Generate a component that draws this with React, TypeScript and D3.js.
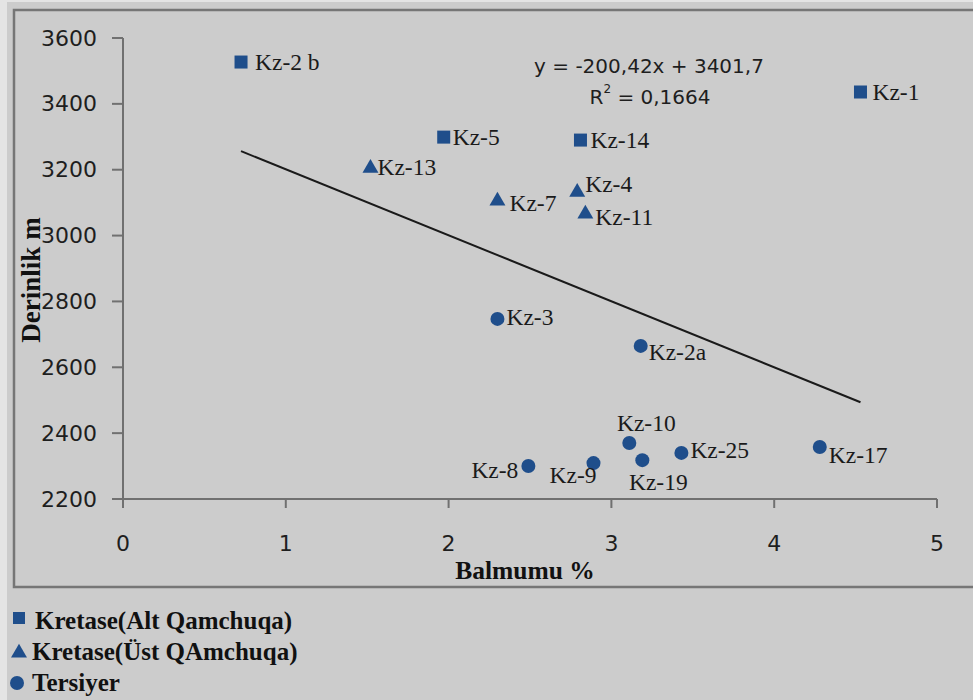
import React from "react";
import * as d3 from "d3";

const W = 973;
const H = 700;

const seriesNames = ["Kretase(Alt Qamchuqa)", "Kretase(Üst QAmchuqa)", "Tersiyer"];

// Kretase (Alt Qamchuqa) - squares
const altLabels = ["Kz-2 b", "Kz-5", "Kz-14", "Kz-1"];
const altX = [0.725, 1.97, 2.81, 4.53];
const altY = [3527, 3299, 3290, 3436];

// Kretase (Üst Qamchuqa) - triangles
const ustLabels = ["Kz-13", "Kz-7", "Kz-4", "Kz-11"];
const ustX = [1.52, 2.3, 2.79, 2.84];
const ustY = [3208, 3108, 3135, 3069];

// Tersiyer - circles
const terLabels = ["Kz-3", "Kz-2a", "Kz-10", "Kz-25", "Kz-17", "Kz-8", "Kz-9", "Kz-19"];
const terX = [2.3, 3.18, 3.11, 3.43, 4.28, 2.49, 2.89, 3.19];
const terY = [2747, 2665, 2370, 2340, 2358, 2300, 2309, 2318];

const xTicks = [0, 1, 2, 3, 4, 5];
const yTicks = [2200, 2400, 2600, 2800, 3000, 3200, 3400, 3600];

const slope = -200.42;
const intercept = 3401.7;
const equationText = "y = -200,42x + 3401,7";
const r2Value = "0,1664";

// label offsets (px) and anchors per point
type LabelPos = { dx: number; dy: number; anchor: "start" | "middle" | "end" };
const altLabelPos: LabelPos[] = [
  { dx: 14, dy: 0, anchor: "start" },
  { dx: 9, dy: 0, anchor: "start" },
  { dx: 10, dy: 0, anchor: "start" },
  { dx: 12, dy: 0, anchor: "start" },
];
const ustLabelPos: LabelPos[] = [
  { dx: 7, dy: 0, anchor: "start" },
  { dx: 12, dy: 3, anchor: "start" },
  { dx: 8, dy: -7, anchor: "start" },
  { dx: 10, dy: 4, anchor: "start" },
];
const terLabelPos: LabelPos[] = [
  { dx: 9, dy: -2, anchor: "start" },
  { dx: 8, dy: 6, anchor: "start" },
  { dx: 17, dy: -20, anchor: "middle" },
  { dx: 9, dy: -3, anchor: "start" },
  { dx: 9, dy: 8, anchor: "start" },
  { dx: -10, dy: 4, anchor: "end" },
  { dx: 3, dy: 12, anchor: "end" },
  { dx: 16, dy: 22, anchor: "middle" },
];

const BLUE = "#1F4E8B";
const SERIF = "'Liberation Serif', 'Times New Roman', serif";
const SANS = "'DejaVu Sans', sans-serif";

export default function App() {
  const x = d3.scaleLinear().domain([0, 5]).range([123, 937]);
  const y = d3.scaleLinear().domain([2200, 3600]).range([499, 38]);

  const allX = [...altX, ...ustX, ...terX];
  const xMin = d3.min(allX) as number;
  const xMax = d3.max(allX) as number;
  const trend = d3
    .line<number>()
    .x((d) => x(d))
    .y((d) => y(slope * d + intercept));

  const tri = d3.symbol().type(d3.symbolTriangle).size(110)() as string;

  const label = (t: string, px: number, py: number, p: LabelPos, key: string) => (
    <text
      key={key}
      x={px + p.dx}
      y={py + p.dy}
      textAnchor={p.anchor}
      dominantBaseline="central"
      fontFamily={SERIF}
      fontSize={23.5}
      fill="#1a1a1a"
    >
      {t}
    </text>
  );

  return (
    <svg
      width={W}
      height={H}
      style={{ position: "absolute", left: 0, top: 0, display: "block" }}
    >
      <rect x={0} y={0} width={W} height={H} fill="#cccccc" />
      <rect x={0} y={0} width={7} height={H} fill="#e4e4e4" />
      <rect x={0} y={0} width={W} height={2} fill="#e4e4e4" />
      {/* chart frame */}
      <rect x={14} y={10} width={W + 20} height={577} fill="none" stroke="#767676" strokeWidth={2.5} />

      {/* axes */}
      <line x1={123} x2={123} y1={y(3600)} y2={y(2200)} stroke="#707070" strokeWidth={2} />
      <line x1={123} x2={x(5)} y1={y(2200)} y2={y(2200)} stroke="#707070" strokeWidth={2} />
      {yTicks.map((t) => (
        <g key={"yt" + t}>
          <line x1={112} x2={123} y1={y(t)} y2={y(t)} stroke="#707070" strokeWidth={2} />
          <text
            x={97}
            y={y(t)}
            textAnchor="end"
            dominantBaseline="central"
            fontFamily={SANS}
            fontSize={22}
            fill="#1e1e1e"
          >
            {t}
          </text>
        </g>
      ))}
      {xTicks.map((t) => (
        <g key={"xt" + t}>
          <line x1={x(t)} x2={x(t)} y1={499} y2={508} stroke="#707070" strokeWidth={2} />
          <text
            x={x(t)}
            y={543}
            textAnchor="middle"
            dominantBaseline="central"
            fontFamily={SANS}
            fontSize={22}
            fill="#1e1e1e"
          >
            {t}
          </text>
        </g>
      ))}

      {/* axis titles */}
      <text
        x={525}
        y={570}
        textAnchor="middle"
        dominantBaseline="central"
        fontFamily={SERIF}
        fontWeight="bold"
        fontSize={25.5}
        fill="#111"
      >
        Balmumu %
      </text>
      <text
        transform="translate(31,280) rotate(-90)"
        textAnchor="middle"
        dominantBaseline="central"
        fontFamily={SERIF}
        fontWeight="bold"
        fontSize={27}
        fill="#111"
      >
        Derinlik m
      </text>

      {/* trend line */}
      <path d={trend([xMin, xMax]) as string} fill="none" stroke="#1a1a1a" strokeWidth={2} />
      <text x={649} y={66} textAnchor="middle" dominantBaseline="central" fontFamily={SANS} fontSize={20} fill="#1e1e1e">
        {equationText}
      </text>
      <text x={650} y={97} textAnchor="middle" dominantBaseline="central" fontFamily={SANS} fontSize={20} fill="#1e1e1e">
        R<tspan fontSize={12} dy={-8}>2</tspan>
        <tspan dy={8}> = {r2Value}</tspan>
      </text>

      {/* points */}
      {altX.map((v, i) => (
        <rect key={"a" + i} x={x(v) - 6.5} y={y(altY[i]) - 6.5} width={13} height={13} fill={BLUE} />
      ))}
      {ustX.map((v, i) => (
        <path key={"u" + i} d={tri} transform={`translate(${x(v)},${y(ustY[i]) + 1})`} fill={BLUE} />
      ))}
      {terX.map((v, i) => (
        <circle key={"t" + i} cx={x(v)} cy={y(terY[i])} r={7} fill={BLUE} />
      ))}

      {/* labels */}
      {altLabels.map((t, i) => label(t, x(altX[i]), y(altY[i]), altLabelPos[i], "al" + i))}
      {ustLabels.map((t, i) => label(t, x(ustX[i]), y(ustY[i]), ustLabelPos[i], "ul" + i))}
      {terLabels.map((t, i) => label(t, x(terX[i]), y(terY[i]), terLabelPos[i], "tl" + i))}

      {/* legend */}
      <rect x={13} y={612} width={12} height={12} fill={BLUE} />
      <path d={tri} transform="translate(19,653)" fill={BLUE} />
      <circle cx={17} cy={683} r={7} fill={BLUE} />
      {seriesNames.map((s, i) => (
        <text
          key={"lg" + i}
          x={i === 0 ? 35 : 32}
          y={620 + i * 31}
          dominantBaseline="central"
          fontFamily={SERIF}
          fontWeight="bold"
          fontSize={25}
          fill="#111"
        >
          {s}
        </text>
      ))}
    </svg>
  );
}
